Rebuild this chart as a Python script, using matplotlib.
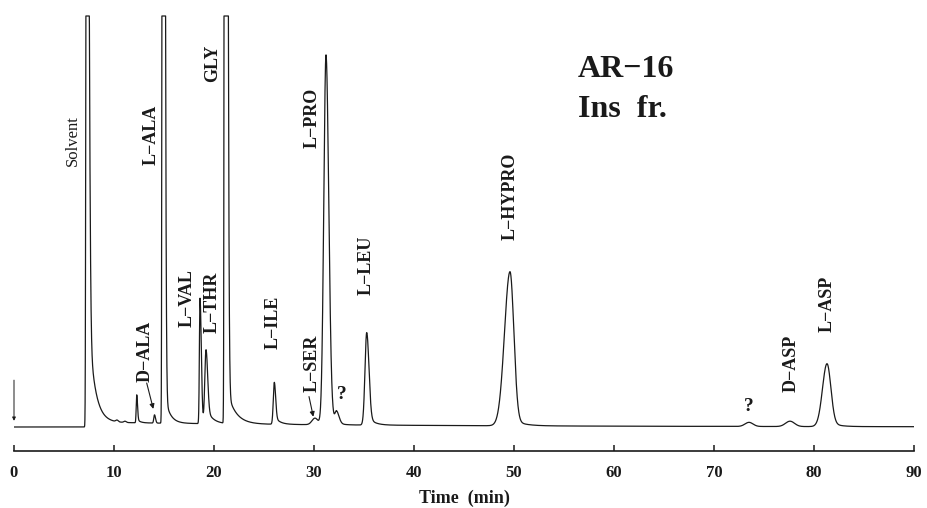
import matplotlib
matplotlib.use("Agg")
import matplotlib.pyplot as plt
import numpy as np

plt.rcParams['font.family'] = ['Liberation Serif', 'DejaVu Serif']

# Tabela de picos (tempo de retenção em min, altura em unidades arbitrárias)
nomes_picos = ["Solvent", "Solvent drift", "ruido", "ruido", "D-ALA marca", "D-ALA",
               "L-ALA", "L-VAL", "L-THR", "GLY", "L-ILE", "L-SER", "L-PRO", "?",
               "L-LEU", "L-HYPRO", "?", "D-ASP", "L-ASP"]
tempo_ret = [7.25, 7.25, 10.3, 11.1, 12.27, 14.05, 14.88, 18.6, 19.2, 21.1, 26.03, 30.1,
             31.2, 32.25, 35.27, 49.6, 73.5, 77.6, 81.3]
altura = [296, 0.0, 0.4, 0.3, 6.8, 2.0, 700, 30.5, 18.0, 900, 10.2, 1.6,
          90, 2.8, 22.5, 37.5, 1.0, 1.3, 15.3]
sigma_esq = [0.05, 0.1, 0.12, 0.12, 0.05, 0.07, 0.05, 0.06, 0.12, 0.05, 0.1, 0.3,
             0.22, 0.15, 0.17, 0.55, 0.4, 0.45, 0.45]
sigma_dir = [0.18, 0.1, 0.12, 0.12, 0.08, 0.1, 0.14, 0.13, 0.16, 0.16, 0.13, 0.3,
             0.27, 0.25, 0.22, 0.38, 0.4, 0.45, 0.38]
cauda_amp = [35.7, 1.2, 0, 0, 1.0, 0, 10, 0, 4, 10.5, 2.0, 0,
             5, 0, 2.5, 2.0, 0, 0, 1.5]
cauda_tau = [0.6, 30, 1, 1, 0.3, 1, 0.5, 1, 0.6, 0.82, 0.5, 1,
             0.5, 1, 0.6, 1.0, 1, 1, 0.8]

# marca de injeção
injecao_t = 0.0
injecao_h = 11.4

# rótulos
rotulos = ["Solvent", "L−ALA", "GLY", "L−PRO", "L−HYPRO", "L−LEU", "D−ALA",
           "L−VAL", "L−THR", "L−ILE", "L−SER", "D−ASP", "L−ASP"]
rotulos_t = [5.9, 13.7, 19.85, 29.85, 49.6, 35.2, 13.1, 17.3, 19.8, 25.9, 29.8, 77.7, 81.3]
rotulos_h = [63.5, 63.7, 84.0, 67.9, 45.5, 32.1, 10.9, 24.3, 22.9, 19.0, 8.5, 8.5, 23.1]

interrog_t = [32.8, 73.5]
interrog_h = [7.8, 4.9]

ticks_x = [0, 10, 20, 30, 40, 50, 60, 70, 80, 90]
LIMITE = 100.0  # pena no topo do registrador


def sinal(t):
    y = np.zeros_like(t)
    for t0, h, sl, sr, a, tau in zip(tempo_ret, altura, sigma_esq, sigma_dir,
                                      cauda_amp, cauda_tau):
        dt = t - t0
        s = np.where(dt < 0, sl, sr)
        y += h * np.exp(-0.5 * (dt / s) ** 2)
        pos = np.clip(dt, 0, None)
        y += a * np.exp(-pos / tau) * (1 - np.exp(-0.5 * (pos / sr) ** 2))
    return np.minimum(y, LIMITE)


W, H = 927, 508
fig = plt.figure(figsize=(W / 100, H / 100), dpi=100)
escala = 4.11  # px por unidade
y_eixo = 451
y_base = 427
ax = fig.add_axes([14 / W, (H - y_eixo) / H, 900 / W, y_eixo / H])
ax.set_xlim(0, 90)
ax.set_ylim(-(y_eixo - y_base) / escala, y_base / escala)

t = np.linspace(0, 90, 9001)
ax.plot(t, sinal(t), color="#1a1a1a", lw=0.9, solid_joinstyle="round")

ax.annotate("", xy=(injecao_t, 1.5), xytext=(injecao_t, injecao_h),
            arrowprops=dict(arrowstyle="-|>", color="#1a1a1a", lw=0.7,
                            mutation_scale=5, shrinkA=0, shrinkB=0))

for nome, tx, hy in zip(rotulos, rotulos_t, rotulos_h):
    if nome == "Solvent":
        ax.text(tx, hy, nome, rotation=90, ha="center", va="bottom",
                fontsize=12, color="#1a1a1a")
    else:
        ax.text(tx, hy, nome, rotation=90, ha="center", va="bottom",
                fontsize=13, fontweight="bold", color="#1a1a1a")

for tx, hy in zip(interrog_t, interrog_h):
    ax.text(tx, hy, "?", ha="center", va="center", fontsize=14,
            fontweight="bold", color="#1a1a1a")

# setas D-ALA e L-SER
seta = dict(arrowstyle="-|>", color="#1a1a1a", lw=0.8, mutation_scale=7,
            shrinkA=0, shrinkB=0)
ax.annotate("", xy=(13.93, 4.4), xytext=(13.27, 10.7), arrowprops=seta)
ax.annotate("", xy=(29.93, 2.5), xytext=(29.5, 7.4), arrowprops=seta)

for lado in ["top", "right", "left"]:
    ax.spines[lado].set_visible(False)
ax.spines["bottom"].set_linewidth(1.2)
ax.spines["bottom"].set_color("#1a1a1a")
ax.set_yticks([])
ax.set_xticks(ticks_x)
ax.tick_params(axis="x", direction="in", length=4, width=1.1, pad=10,
               labelsize=12, colors="#1a1a1a")
for lbl in ax.get_xticklabels():
    lbl.set_fontweight("bold")

fig.text(464 / W, (H - 503) / H, "Time  (min)", ha="center", va="baseline",
         fontsize=13, fontweight="bold", color="#1a1a1a")
fig.text(578 / W, (H - 77) / H, "AR−16", ha="left", va="baseline",
         fontsize=23, fontweight="bold", color="#1a1a1a")
fig.text(578 / W, (H - 117) / H, "Ins  fr.", ha="left", va="baseline",
         fontsize=23, fontweight="bold", color="#1a1a1a")

fig.savefig("out.png", dpi=100)
